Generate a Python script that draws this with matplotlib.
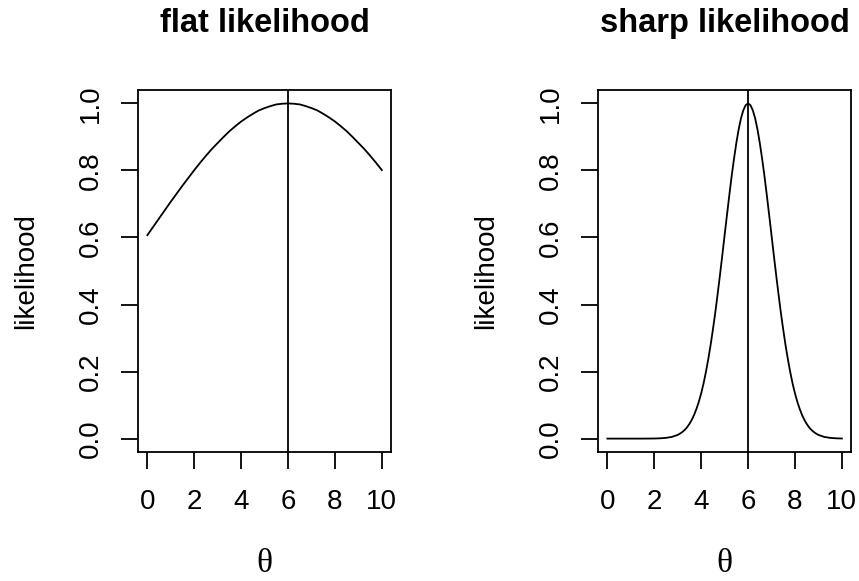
import matplotlib.pyplot as plt

# theta grid and likelihood values
theta_flat = [0.0, 0.25, 0.5, 0.75, 1.0, 1.25, 1.5, 1.75, 2.0, 2.25, 2.5, 2.75,
              3.0, 3.25, 3.5, 3.75, 4.0, 4.25, 4.5, 4.75, 5.0, 5.25, 5.5, 5.75,
              6.0, 6.25, 6.5, 6.75, 7.0, 7.25, 7.5, 7.75, 8.0, 8.25, 8.5, 8.75,
              9.0, 9.25, 9.5, 9.75, 10.0]
flat_lik = [0.607, 0.632, 0.657, 0.682, 0.707, 0.731, 0.755, 0.778, 0.801,
            0.823, 0.844, 0.864, 0.882, 0.900, 0.917, 0.932, 0.946, 0.958,
            0.969, 0.979, 0.986, 0.992, 0.997, 0.999, 1.000, 0.999, 0.997,
            0.992, 0.986, 0.979, 0.969, 0.958, 0.946, 0.932, 0.917, 0.900,
            0.882, 0.864, 0.844, 0.823, 0.801]

theta_sharp = [0.0, 0.5, 1.0, 1.5, 2.0, 2.25, 2.5, 2.75,
               3.0, 3.1, 3.2, 3.3, 3.4, 3.5, 3.6, 3.7, 3.8, 3.9,
               4.0, 4.1, 4.2, 4.3, 4.4, 4.5, 4.6, 4.7, 4.8, 4.9,
               5.0, 5.1, 5.2, 5.3, 5.4, 5.5, 5.6, 5.7, 5.8, 5.9,
               6.0, 6.1, 6.2, 6.3, 6.4, 6.5, 6.6, 6.7, 6.8, 6.9,
               7.0, 7.1, 7.2, 7.3, 7.4, 7.5, 7.6, 7.7, 7.8, 7.9,
               8.0, 8.1, 8.2, 8.3, 8.4, 8.5, 8.6, 8.7, 8.8, 8.9,
               9.0, 9.25, 9.5, 9.75, 10.0]
sharp_lik = [0.000, 0.000, 0.000, 0.000, 0.0003, 0.0009, 0.0022, 0.0051,
             0.011, 0.015, 0.020, 0.026, 0.034, 0.044, 0.056, 0.071, 0.089, 0.110,
             0.135, 0.164, 0.198, 0.236, 0.278, 0.325, 0.375, 0.430, 0.487, 0.546,
             0.607, 0.667, 0.726, 0.783, 0.835, 0.882, 0.923, 0.956, 0.980, 0.995,
             1.000, 0.995, 0.980, 0.956, 0.923, 0.882, 0.835, 0.783, 0.726, 0.667,
             0.607, 0.546, 0.487, 0.430, 0.375, 0.325, 0.278, 0.236, 0.198, 0.164,
             0.135, 0.110, 0.089, 0.071, 0.056, 0.044, 0.034, 0.026, 0.020, 0.015,
             0.011, 0.0051, 0.0022, 0.0009, 0.0003]
theta_hat = 6
titles = ["flat likelihood", "sharp likelihood"]
x_ticks = [0, 2, 4, 6, 8, 10]
y_ticks = [0.0, 0.2, 0.4, 0.6, 0.8, 1.0]

plt.rcParams["font.family"] = ["Liberation Sans", "DejaVu Sans"]

fig = plt.figure(figsize=(8.59, 5.81), dpi=100)
lefts = [138 / 859, 598 / 859]
panels = [(theta_flat, flat_lik), (theta_sharp, sharp_lik)]
for left, title, (th, lik) in zip(lefts, titles, panels):
    ax = fig.add_axes([left, 0.222, 0.2948, 0.6231])
    ax.plot(th, lik, color="black", lw=1.3)
    ax.axvline(theta_hat, color="black", lw=1.3)
    ax.set_xlim(-0.4, 10.4)
    ax.set_ylim(-0.04, 1.04)
    ax.set_xticks(x_ticks)
    ax.set_xticklabels([str(t) for t in x_ticks])
    ax.set_yticks(y_ticks)
    ax.set_yticklabels(["%.1f" % t for t in y_ticks])
    for s in ax.spines.values():
        s.set_linewidth(1.3)
    ax.tick_params(axis="both", length=12.5, width=1.3, labelsize=20)
    ax.tick_params(axis="x", pad=14)
    ax.tick_params(axis="y", pad=12, labelrotation=90)
    for lab in ax.get_yticklabels():
        lab.set_va("center")
    ax.set_title(title, fontsize=23.5, fontweight="bold", pad=42)
    ax.set_ylabel("likelihood", fontsize=20, labelpad=28)
    ax.set_xlabel("θ", fontsize=24, family=["Liberation Serif", "DejaVu Serif"],
                  labelpad=24)

fig.savefig("out.png", dpi=100)
plt.close(fig)
